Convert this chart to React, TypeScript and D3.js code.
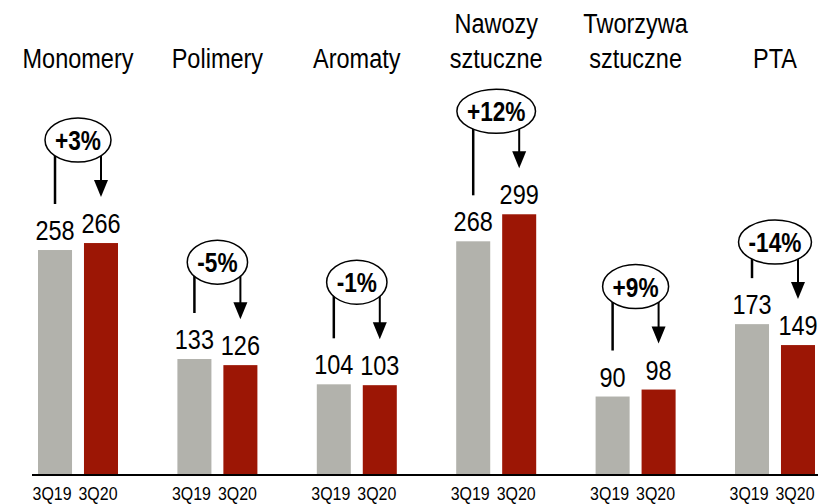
import React, { useEffect, useRef } from 'react';
import * as d3 from 'd3';

const categories = ['Monomery', 'Polimery', 'Aromaty', 'Nawozy\nsztuczne', 'Tworzywa\nsztuczne', 'PTA'];
const periods = ['3Q19', '3Q20'];
const values3Q19 = [258, 133, 104, 268, 90, 173];
const values3Q20 = [266, 126, 103, 299, 98, 149];
const changes = ['+3%', '-5%', '-1%', '+12%', '+9%', '-14%'];

const width = 818;
const height = 504;
const baseY = 475;
const font = '"Liberation Sans", Arial, sans-serif';
const narrow = 0.84; // squeeze Liberation Sans to look like Arial Narrow
const colors = ['#b2b2ac', '#9c1605'];

function App() {
    const svgRef = useRef<SVGSVGElement>(null);

    useEffect(() => {
        const svg = d3.select(svgRef.current);
        svg.selectAll('*').remove();

        const xScale = d3.scalePoint<string>()
            .domain(categories)
            .range([78, 775]);

        const inner = d3.scaleBand<string>()
            .domain(periods)
            .range([-40, 40])
            .paddingInner(0.26);

        const yScale = d3.scaleLinear()
            .domain([0, 300])
            .range([baseY, baseY - 300 * 0.872]);

        const series = [values3Q19, values3Q20];
        const bw = inner.bandwidth();
        const barCenter = (c: string, p: string) => (xScale(c) as number) + (inner(p) as number) + bw / 2;

        const label = (parent: any, x: number, y: number, size: number, txt: string, bold = false) =>
            parent.append('text')
                .attr('transform', `translate(${x},${y}) scale(${narrow},1)`)
                .attr('text-anchor', 'middle')
                .attr('font-family', font)
                .attr('font-size', size)
                .attr('font-weight', bold ? 'bold' : 'normal')
                .attr('fill', '#000')
                .text(txt);

        // bars
        series.forEach((vals, si) => {
            svg.append('g')
                .selectAll('rect')
                .data(vals)
                .enter()
                .append('rect')
                .attr('x', (d, i) => (xScale(categories[i]) as number) + (inner(periods[si]) as number))
                .attr('y', d => yScale(d))
                .attr('width', bw)
                .attr('height', d => baseY - yScale(d))
                .attr('fill', colors[si]);

            const g = svg.append('g');
            vals.forEach((d, i) => {
                const x = barCenter(categories[i], periods[si]);
                // value label
                label(g, x, yScale(d) - 10, 28, String(d));
                // period tick label
                label(g, x - 3, 500, 19, periods[si]);
            });
        });

        // axis line
        svg.append('line')
            .attr('x1', 32)
            .attr('x2', width)
            .attr('y1', baseY)
            .attr('y2', baseY)
            .attr('stroke', '#000')
            .attr('stroke-width', 2);

        // category labels
        categories.forEach(c => {
            const lines = c.split('\n');
            lines.forEach((ln, li) => {
                label(svg, xScale(c) as number, 68 - (lines.length - 1 - li) * 35, 28, ln);
            });
        });

        // change callouts
        categories.forEach((c, i) => {
            const cx = xScale(c) as number;
            const cy = yScale(values3Q20[i]) - 103;
            const xl = barCenter(c, periods[0]);
            const xr = barCenter(c, periods[1]);
            const g = svg.append('g');
            const lineL = g.append('line');
            const lineR = g.append('line');
            const head = g.append('path');
            const ell = g.append('ellipse');
            const txt = label(g, cx, cy + 10, 27, changes[i], true);
            const tw = (txt.node() as SVGTextElement).getComputedTextLength() * narrow;
            const rx = Math.max(30, tw / 2 + 10);
            const ry = 22;
            ell.attr('cx', cx).attr('cy', cy).attr('rx', rx).attr('ry', ry)
                .attr('fill', '#fff').attr('stroke', '#000').attr('stroke-width', 1.5);

            const edge = (x: number) => {
                const dx = (x - cx) / rx;
                return cy + ry * Math.sqrt(Math.max(0, 1 - dx * dx));
            };

            lineL.attr('x1', xl).attr('x2', xl)
                .attr('y1', edge(xl) - 2)
                .attr('y2', yScale(values3Q19[i]) - 46)
                .attr('stroke', '#000').attr('stroke-width', 2.5);

            const tip = yScale(values3Q20[i]) - 46;
            lineR.attr('x1', xr).attr('x2', xr)
                .attr('y1', edge(xr) - 2)
                .attr('y2', tip - 10)
                .attr('stroke', '#000').attr('stroke-width', 2);
            head.attr('d', `M${xr - 7},${tip - 17} L${xr + 7},${tip - 17} L${xr},${tip} Z`)
                .attr('fill', '#000');
        });
    }, []);

    return (
        <svg ref={svgRef} width={width} height={height}
            style={{ position: 'absolute', left: 0, top: 0, background: '#fff' }} />
    );
}

export default App;
